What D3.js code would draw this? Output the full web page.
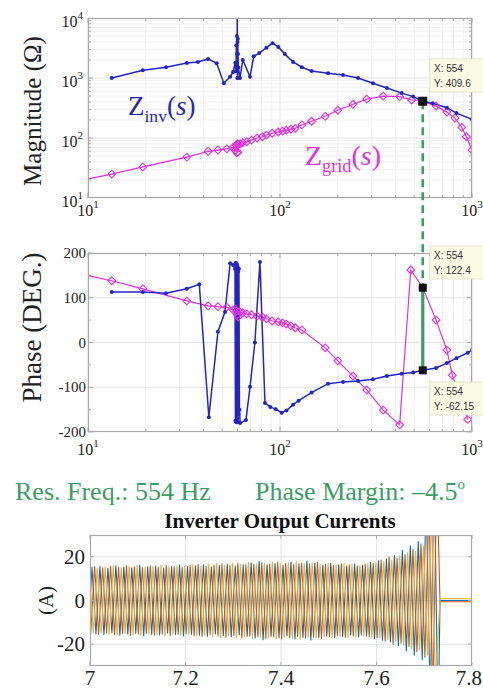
<!DOCTYPE html>
<html>
<head>
<meta charset="utf-8">
<script src="https://cdn.jsdelivr.net/npm/d3@7"></script>
<style>
  body { margin: 0; background: #fff; }
  svg { display: block; }
</style>
</head>
<body>
<svg id="fig" width="483" height="691"></svg>
<script>
// ---------- Impedance magnitude (Ohm) ----------
const zinvMagFreq = [13.3, 19.3, 25.5, 32.7, 37.4, 42.2, 46.8, 51, 55, 57, 58.5, 59.0, 59.2, 59.4, 59.6, 59.8, 59.9, 60, 60.1, 60.2, 60.3, 60.4, 60.7, 61.9, 64, 69.8, 73, 78, 85, 91.5, 98, 106, 117, 130, 146, 178, 213, 255, 305, 360, 430, 494, 554, 625, 740, 830, 1000];
const zinvMag = [1000, 1350, 1510, 1780, 1850, 2080, 1760, 820, 1050, 1260, 1800, 1300, 3500, 1500, 5000, 2500, 15000, 1000, 4000, 1000, 4500, 2500, 1500, 1000, 2000, 1050, 2300, 2600, 3200, 3800, 3300, 2500, 1850, 1510, 1310, 1200, 1120, 1000, 820, 680, 560, 490, 409.6, 380, 320, 260, 205];

const zgridMagFreq = [8.7, 13.3, 19.3, 32.7, 42.2, 47.5, 52.8, 57, 58.5, 59.3, 59.7, 60, 60.3, 60.8, 62, 64, 67, 71, 76, 81, 85, 91, 98, 103, 108, 114, 120, 130, 146, 172, 200, 240, 283, 345, 420, 485, 554, 650, 740, 815, 885, 935, 1000];
const zgridMag = [19, 25, 33, 48, 60, 63, 66, 70, 62, 75, 56, 80, 58, 78, 80, 84, 86, 92, 100, 105, 112, 120, 126, 130, 135, 140, 145, 165, 190, 230, 290, 365, 445, 500, 490, 430, 409.6, 340, 270, 215, 150, 105, 63];

// ---------- Impedance phase (deg) ----------
const zinvPhFreq = [13.3, 19.3, 25.5, 32.7, 38, 42.6, 47.5, 51.7, 55, 57, 58.3, 58.6, 58.9, 59.2, 59.4, 59.6, 59.8, 60.0, 60.2, 60.4, 60.6, 60.8, 61.1, 61.5, 62, 66.5, 69.8, 74, 78.6, 83.5, 89, 95, 102, 108, 117, 125, 146, 178, 213, 255, 305, 360, 430, 494, 554, 650, 740, 830, 950, 1000];
const zinvPh = [113, 113, 110, 120, 130, -167, 24, 68, 177, 173, 165, -175, 178, -178, 95, 175, -170, 170, -122, -178, 160, -160, 165, -150, -180, -173, -99, 0, 180, -135, -144, -149, -157, -152, -139, -130, -112, -92, -88, -86, -82, -75, -70, -67, -62.15, -57, -46, -35, -23, -17];

const zgridPhFreq = [8.7, 13.3, 19.3, 32.7, 42.2, 47.5, 52.8, 57, 58.5, 59.3, 60, 60.5, 62, 64, 67, 71, 76, 81, 85, 91, 98, 103, 108, 114, 120, 130, 172, 200, 240, 283, 345, 420, 480, 554, 650, 740, 790, 950];
const zgridPh = [155, 138, 120, 93, 82, 80, 79, 73, 75, 70, 62, 57, 68, 66, 64, 62, 59, 57, 53, 48, 46, 44, 41, 37, 33, 28, -12, -41, -75, -106, -151, -184, 162, 122.4, 50, -17, -73, -172];

// Crossing point read-outs
const resFreq = 554;
const crossMag = 409.6;
const gridPhAtRes = 122.4;
const invPhAtRes = -62.15;

// Axis ticks
const magTickExp = [1, 2, 3, 4];
const freqTickExp = [1, 2, 3];
const phaseTicks = [200, 100, 0, -100, -200];

// ---------- Inverter output currents (A) ----------
// per-cycle peak current of each phase, 60 Hz cycles from t = 7.0 s up to the trip
const gridHz = 60;
const tripTime = 7.733;
const peakIa = [15.2, 15.6, 14.8, 15.9, 15.3, 15.0, 16.1, 15.4, 15.8, 14.9, 15.6, 16.2, 15.5, 15.9, 16.4, 15.3, 16.0, 16.6, 15.8, 16.3, 17.2, 18.0, 16.4, 16.9, 16.1, 17.6, 16.8, 18.1, 17.0, 16.2, 16.9, 16.4, 15.8, 16.7, 16.2, 17.4, 18.2, 19.0, 20.6, 23.0, 25.0, 27.0, 48.0, 60.0];
const peakIb = [15.6, 15.0, 15.7, 15.2, 16.0, 15.4, 15.1, 15.9, 15.3, 16.0, 15.5, 15.2, 16.1, 16.5, 15.7, 16.2, 16.8, 16.0, 17.1, 16.4, 16.7, 17.3, 16.6, 17.6, 16.9, 16.5, 17.2, 16.8, 17.5, 16.6, 16.1, 16.8, 16.3, 15.9, 16.6, 17.0, 18.5, 20.0, 19.5, 21.0, 23.5, 26.0, 44.0, 58.0];
const peakIc = [14.8, 15.4, 15.9, 15.1, 15.6, 16.0, 15.3, 15.7, 16.2, 15.5, 15.9, 15.6, 16.3, 15.8, 16.6, 16.9, 16.2, 17.0, 16.5, 17.4, 16.8, 17.0, 17.6, 16.7, 17.3, 17.8, 16.9, 17.2, 16.5, 17.0, 16.4, 16.9, 16.6, 16.2, 16.8, 17.1, 17.8, 18.5, 20.5, 22.0, 22.5, 25.0, 40.0, 55.0];
const phaseDelayDeg = [0, 120, 240];
const afterTrip = [0, -0.6, 0.8];
const currentXTicks = [7, 7.2, 7.4, 7.6, 7.8];
const currentXLabels = ["7", "7.2", "7.4", "7.6", "7.8"];
const currentYTicks = [20, 0, -20];

// ---------- styles ----------
const SERIF = "Liberation Serif, Times New Roman, serif";
const SANS = "Liberation Sans, Arial, sans-serif";
const BLUE = "#2424c4";
const MAGENTA = "#e030e0";
const GREEN = "#3a9e62";
const FRAME = "#a9a9a9";
const GRID = "#e4e4e4";
const MINOR = "#f0f0f0";
const PHASE_COLORS = ["#0072BD", "#D95319", "#EDB120"];

const svg = d3.select("#fig");

const magBox = { x0: 88, x1: 472, y0: 18, y1: 198 };
const phBox = { x0: 88, x1: 472, y0: 253, y1: 432 };
const curBox = { x0: 90, x1: 472, y0: 535, y1: 666 };

const xF = d3.scaleLog().domain([10, 1000]).range([magBox.x0, magBox.x1]);
const yMag = d3.scaleLog().domain([10, 10000]).range([magBox.y1, magBox.y0]);
const yPh = d3.scaleLinear().domain([-200, 200]).range([phBox.y1, phBox.y0]);
const xT = d3.scaleLinear().domain([7, 7.8]).range([curBox.x0, curBox.x1]);
const yI = d3.scaleLinear().domain([-30, 30]).range([curBox.y1, curBox.y0]);

function clip(id, b) {
  svg.append("clipPath").attr("id", id).append("rect")
    .attr("x", b.x0).attr("y", b.y0).attr("width", b.x1 - b.x0).attr("height", b.y1 - b.y0);
}
clip("clipMag", magBox);
clip("clipPh", phBox);
clip("clipCur", curBox);

function logMinors(lo, hi) {
  const out = [];
  for (let d = lo; d < hi; d *= 10) for (let k = 2; k <= 9; k++) out.push(k * d);
  return out;
}
const freqMinor = logMinors(10, 1000);
const freqMajor = freqTickExp.map(e => Math.pow(10, e));

function logXGrid(g, b) {
  g.selectAll(".vmin").data(freqMinor).join("line")
    .attr("x1", d => xF(d)).attr("x2", d => xF(d)).attr("y1", b.y0).attr("y2", b.y1)
    .attr("stroke", MINOR).attr("stroke-width", 1);
  g.selectAll(".vmaj").data(freqMajor).join("line")
    .attr("x1", d => xF(d)).attr("x2", d => xF(d)).attr("y1", b.y0).attr("y2", b.y1)
    .attr("stroke", GRID).attr("stroke-width", 1);
}
function logXTicks(g, b) {
  const all = freqMinor.map(d => ({ v: d, len: 3 })).concat(freqMajor.map(d => ({ v: d, len: 5 })));
  g.selectAll(".tb").data(all).join("line")
    .attr("x1", d => xF(d.v)).attr("x2", d => xF(d.v)).attr("y1", b.y1).attr("y2", d => b.y1 - d.len)
    .attr("stroke", FRAME);
  g.selectAll(".tt").data(all).join("line")
    .attr("x1", d => xF(d.v)).attr("x2", d => xF(d.v)).attr("y1", b.y0).attr("y2", d => b.y0 + d.len)
    .attr("stroke", FRAME);
}
function frame(b) {
  svg.append("rect").attr("x", b.x0 + 0.5).attr("y", b.y0 + 0.5)
    .attr("width", b.x1 - b.x0 - 1).attr("height", b.y1 - b.y0 - 1)
    .attr("fill", "none").attr("stroke", FRAME).attr("stroke-width", 1.2);
}
function powLabel(g, x, y, exp, anchor) {
  const t = g.append("text").attr("x", x).attr("y", y).attr("text-anchor", anchor)
    .attr("font-family", SERIF).attr("font-size", 16).attr("fill", "#222");
  t.append("tspan").text("10");
  t.append("tspan").attr("font-size", 11).attr("dy", -8).text(exp);
}

// ================= Magnitude plot =================
const gMag = svg.append("g");
logXGrid(gMag, magBox);
const magMinor = logMinors(10, 10000);
gMag.selectAll(".hmin").data(magMinor).join("line")
  .attr("x1", magBox.x0).attr("x2", magBox.x1).attr("y1", d => yMag(d)).attr("y2", d => yMag(d))
  .attr("stroke", MINOR);
gMag.selectAll(".hmaj").data([100, 1000]).join("line")
  .attr("x1", magBox.x0).attr("x2", magBox.x1).attr("y1", d => yMag(d)).attr("y2", d => yMag(d))
  .attr("stroke", GRID);
logXTicks(gMag, magBox);
gMag.selectAll(".yl").data(magMinor.map(d => ({ v: d, len: 3 })).concat([100, 1000].map(d => ({ v: d, len: 5 })))).join("g")
  .each(function (d) {
    const s = d3.select(this);
    s.append("line").attr("x1", magBox.x0).attr("x2", magBox.x0 + d.len).attr("y1", yMag(d.v)).attr("y2", yMag(d.v)).attr("stroke", FRAME);
    s.append("line").attr("x1", magBox.x1).attr("x2", magBox.x1 - d.len).attr("y1", yMag(d.v)).attr("y2", yMag(d.v)).attr("stroke", FRAME);
  });

const plotMag = gMag.append("g").attr("clip-path", "url(#clipMag)");
const magLine = d3.line().x(d => xF(d[0])).y(d => yMag(d[1]));
const invMagPts = d3.zip(zinvMagFreq, zinvMag);
const gridMagPts = d3.zip(zgridMagFreq, zgridMag);
plotMag.append("path").attr("d", magLine(gridMagPts)).attr("fill", "none")
  .attr("stroke", MAGENTA).attr("stroke-width", 1.2);
plotMag.append("path").attr("d", magLine(invMagPts)).attr("fill", "none")
  .attr("stroke", BLUE).attr("stroke-width", 1.5);
const diamond = d3.symbol(d3.symbolSquare, 30);
plotMag.selectAll(".gm").data(gridMagPts).join("path")
  .attr("d", diamond).attr("transform", d => `translate(${xF(d[0])},${yMag(d[1])}) rotate(45)`)
  .attr("fill", "none").attr("stroke", MAGENTA).attr("stroke-width", 1.1);
plotMag.selectAll(".im").data(invMagPts).join("circle")
  .attr("cx", d => xF(d[0])).attr("cy", d => yMag(d[1])).attr("r", 2).attr("fill", BLUE);
frame(magBox);

magTickExp.forEach(e => powLabel(svg, 83, yMag(Math.pow(10, e)) + 8.5, e, "end"));
freqTickExp.forEach(e => powLabel(svg, xF(Math.pow(10, e)), 216, e, "middle"));

svg.append("text").attr("transform", `translate(41,${(magBox.y0 + magBox.y1) / 2 + 3}) rotate(-90)`)
  .attr("text-anchor", "middle").attr("font-family", SERIF).attr("font-size", 25).attr("fill", "#222")
  .text("Magnitude (\u03A9)");

// curve names
function zLabel(x, y, sub, color, size) {
  const t = svg.append("text").attr("x", x).attr("y", y).attr("font-family", SERIF)
    .attr("font-size", size).attr("fill", color);
  t.append("tspan").text("Z");
  t.append("tspan").attr("font-size", size * 0.65).attr("dy", 7).text(sub);
  t.append("tspan").attr("dy", -7).text("(");
  t.append("tspan").attr("font-style", "italic").text("s");
  t.append("tspan").text(")");
}
zLabel(128, 115, "inv", BLUE, 27);
zLabel(305, 165, "grid", MAGENTA, 28);

// ================= Phase plot =================
const gPh = svg.append("g");
logXGrid(gPh, phBox);
gPh.selectAll(".hp").data([100, 0, -100]).join("line")
  .attr("x1", phBox.x0).attr("x2", phBox.x1).attr("y1", d => yPh(d)).attr("y2", d => yPh(d))
  .attr("stroke", GRID);
logXTicks(gPh, phBox);
gPh.selectAll(".pt").data(d3.range(-200, 201, 50)).join("g").each(function (d) {
  const s = d3.select(this), len = d % 100 === 0 ? 5 : 3;
  s.append("line").attr("x1", phBox.x0).attr("x2", phBox.x0 + len).attr("y1", yPh(d)).attr("y2", yPh(d)).attr("stroke", FRAME);
  s.append("line").attr("x1", phBox.x1).attr("x2", phBox.x1 - len).attr("y1", yPh(d)).attr("y2", yPh(d)).attr("stroke", FRAME);
});
const plotPh = gPh.append("g").attr("clip-path", "url(#clipPh)");
const phLine = d3.line().x(d => xF(d[0])).y(d => yPh(d[1]));
const invPhPts = d3.zip(zinvPhFreq, zinvPh);
const gridPhPts = d3.zip(zgridPhFreq, zgridPh);
plotPh.append("path").attr("d", phLine(gridPhPts)).attr("fill", "none")
  .attr("stroke", MAGENTA).attr("stroke-width", 1.2);
plotPh.append("path").attr("d", phLine(invPhPts)).attr("fill", "none")
  .attr("stroke", BLUE).attr("stroke-width", 1.5);
plotPh.selectAll(".gp").data(gridPhPts).join("path")
  .attr("d", diamond).attr("transform", d => `translate(${xF(d[0])},${yPh(d[1])}) rotate(45)`)
  .attr("fill", "none").attr("stroke", MAGENTA).attr("stroke-width", 1.1);
plotPh.selectAll(".ip").data(invPhPts).join("circle")
  .attr("cx", d => xF(d[0])).attr("cy", d => yPh(d[1])).attr("r", 2).attr("fill", BLUE);
frame(phBox);

phaseTicks.forEach(v => svg.append("text").attr("x", 86).attr("y", yPh(v) + 5).attr("text-anchor", "end")
  .attr("font-family", SERIF).attr("font-size", 15).attr("fill", "#222").text(v));
freqTickExp.forEach(e => powLabel(svg, xF(Math.pow(10, e)), 455, e, "middle"));
svg.append("text").attr("transform", `translate(41,${(phBox.y0 + phBox.y1) / 2 - 15}) rotate(-90)`)
  .attr("text-anchor", "middle").attr("font-family", SERIF).attr("font-size", 27).attr("fill", "#222")
  .text("Phase (DEG.)");

// ================= Resonance markers =================
const xr = xF(resFreq);
svg.append("line").attr("x1", xr).attr("x2", xr).attr("y1", yMag(crossMag)).attr("y2", yPh(gridPhAtRes))
  .attr("stroke", GREEN).attr("stroke-width", 2.6).attr("stroke-dasharray", "8,5");
svg.append("line").attr("x1", xr).attr("x2", xr).attr("y1", yPh(gridPhAtRes)).attr("y2", yPh(invPhAtRes))
  .attr("stroke", GREEN).attr("stroke-width", 3.2);
[[yMag(crossMag), 9], [yPh(gridPhAtRes), 8], [yPh(invPhAtRes), 8]].forEach(([y, s]) => {
  svg.append("rect").attr("x", xr - s / 2).attr("y", y - s / 2).attr("width", s).attr("height", s).attr("fill", "#111");
});

function dataTip(x, y, lines) {
  const g = svg.append("g");
  g.append("rect").attr("x", x).attr("y", y).attr("width", 60).attr("height", 33)
    .attr("fill", "#fbfbe6").attr("stroke", "#dedec8").attr("stroke-width", 0.8);
  lines.forEach((s, i) => g.append("text").attr("x", x + 4).attr("y", y + 13 + i * 15)
    .attr("font-family", SANS).attr("font-size", 10).attr("fill", "#333").text(s));
}
dataTip(430, 59, ["X: " + resFreq, "Y: " + crossMag]);
dataTip(430, 246, ["X: " + resFreq, "Y: " + gridPhAtRes]);
dataTip(430, 382, ["X: " + resFreq, "Y: " + invPhAtRes]);

// ================= Summary text =================
const summary = svg.append("g").attr("font-family", SERIF).attr("font-size", 26).attr("fill", GREEN);
summary.append("text").attr("x", 15).attr("y", 500).text("Res. Freq.: " + resFreq + " Hz");
const pm = summary.append("text").attr("x", 255).attr("y", 500);
pm.append("tspan").text("Phase Margin: \u20134.5");
pm.append("tspan").attr("font-size", 15).attr("dy", -11).text("o");

// ================= Currents plot =================
svg.append("text").attr("x", 280).attr("y", 528).attr("text-anchor", "middle")
  .attr("font-family", SERIF).attr("font-size", 21).attr("font-weight", "bold").attr("fill", "#111")
  .text("Inverter Output Currents");

const gCur = svg.append("g");
gCur.selectAll(".cv").data(currentXTicks.slice(1, -1)).join("line")
  .attr("x1", d => xT(d)).attr("x2", d => xT(d)).attr("y1", curBox.y0).attr("y2", curBox.y1).attr("stroke", GRID);
gCur.selectAll(".ch").data(currentYTicks).join("line")
  .attr("x1", curBox.x0).attr("x2", curBox.x1).attr("y1", d => yI(d)).attr("y2", d => yI(d)).attr("stroke", GRID);

const plotCur = gCur.append("g").attr("clip-path", "url(#clipCur)");
const curLine = d3.line().x(d => xT(d[0])).y(d => yI(d[1]));
[peakIa, peakIb, peakIc].forEach((peaks, p) => {
  const t0 = 7 + (0.25 + phaseDelayDeg[p] / 360) / gridHz;
  const pts = [];
  for (let j = -2; ; j++) {
    const t = t0 + j / (2 * gridHz);
    if (t > tripTime - 0.002) break;
    const amp = peaks[Math.max(0, Math.floor(j / 2))];
    pts.push([t, (j % 2 === 0 ? 1 : -1) * amp]);
  }
  pts.push([tripTime, afterTrip[p]], [7.8, afterTrip[p]]);
  plotCur.append("path").attr("d", curLine(pts)).attr("fill", "none")
    .attr("stroke", PHASE_COLORS[p]).attr("stroke-width", 1.1).attr("stroke-linejoin", "round");
});
frame(curBox);
currentXTicks.forEach(v => {
  gCur.append("line").attr("x1", xT(v)).attr("x2", xT(v)).attr("y1", curBox.y1).attr("y2", curBox.y1 - 4).attr("stroke", FRAME);
  gCur.append("line").attr("x1", xT(v)).attr("x2", xT(v)).attr("y1", curBox.y0).attr("y2", curBox.y0 + 4).attr("stroke", FRAME);
});
currentYTicks.forEach(v => {
  gCur.append("line").attr("x1", curBox.x0).attr("x2", curBox.x0 + 4).attr("y1", yI(v)).attr("y2", yI(v)).attr("stroke", FRAME);
  gCur.append("line").attr("x1", curBox.x1).attr("x2", curBox.x1 - 4).attr("y1", yI(v)).attr("y2", yI(v)).attr("stroke", FRAME);
});
currentXTicks.forEach((v, i) => {
  const last = i === currentXTicks.length - 1;
  svg.append("text").attr("x", last ? 482 : xT(v)).attr("y", 685)
    .attr("text-anchor", last ? "end" : "middle")
    .attr("font-family", SERIF).attr("font-size", 21).attr("fill", "#222").text(currentXLabels[i]);
});
currentYTicks.forEach(v => svg.append("text").attr("x", 85).attr("y", yI(v) + 7).attr("text-anchor", "end")
  .attr("font-family", SERIF).attr("font-size", 21).attr("fill", "#222").text(v));
svg.append("text").attr("transform", `translate(53,${(curBox.y0 + curBox.y1) / 2}) rotate(-90)`)
  .attr("text-anchor", "middle").attr("font-family", SERIF).attr("font-size", 21).attr("fill", "#222").text("(A)");
</script>
</body>
</html>
